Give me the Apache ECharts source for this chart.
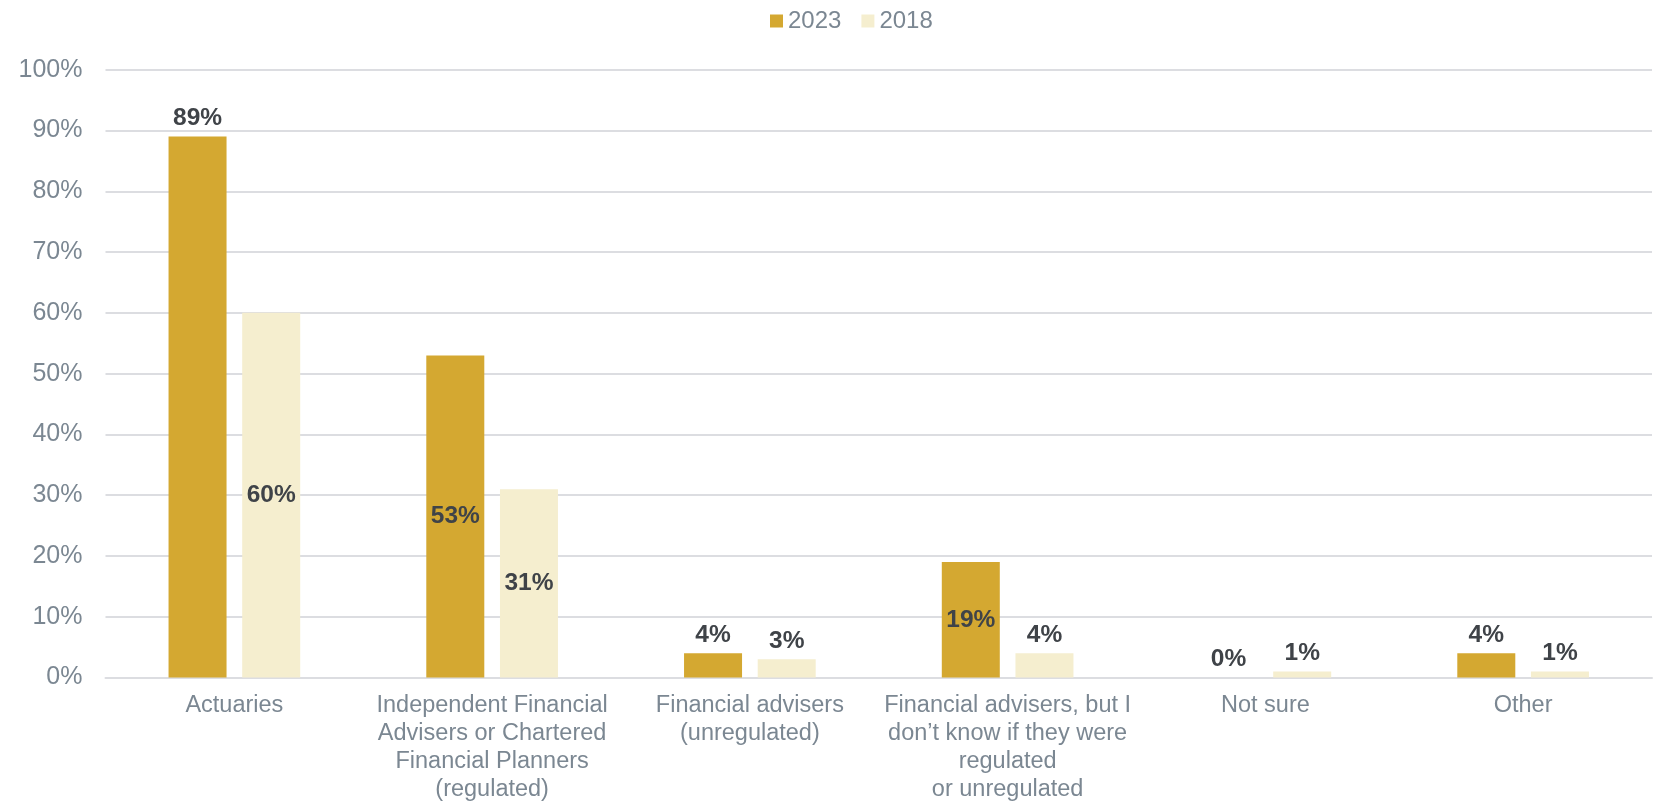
<!DOCTYPE html>
<html>
<head>
<meta charset="utf-8">
<script src="https://cdn.jsdelivr.net/npm/echarts@6/dist/echarts.min.js"></script>
<style>
  html, body { margin: 0; padding: 0; background: #ffffff; }
  #chart { width: 1655px; height: 807px; }
</style>
</head>
<body>
<div id="chart"></div>
<script>
// Who was consulted, share of respondents by survey year
const categories = [
  'Actuaries',
  'Independent Financial\nAdvisers or Chartered\nFinancial Planners\n(regulated)',
  'Financial advisers\n(unregulated)',
  'Financial advisers, but I\ndon\u2019t know if they were\nregulated\nor unregulated',
  'Not sure',
  'Other'
];
const values2023 = [89, 53, 4, 19, 0, 4];
const values2018 = [60, 31, 3, 4, 1, 1];
const yTicks = [0, 10, 20, 30, 40, 50, 60, 70, 80, 90, 100];

const FONT = '"Liberation Sans", Arial, sans-serif';
const AXIS_GREY = '#7b8792';
const LABEL_DARK = '#3f4348';

// Tall bars carry their value in the middle; short ones and the tallest above the bar
function labelled(values) {
  return values.map(v => ({
    value: v,
    label: { position: (v >= 15 && v < 80) ? 'inside' : 'top' }
  }));
}

const valueLabel = {
  show: true,
  formatter: '{c}%',
  color: LABEL_DARK,
  fontSize: 24.5,
  fontWeight: 'bold',
  distance: 6,
  fontFamily: FONT
};

const chart = echarts.init(document.getElementById('chart'), null, { renderer: 'canvas' });

chart.setOption({
  animation: false,
  backgroundColor: '#ffffff',
  textStyle: { fontFamily: FONT },
  legend: {
    top: 4,
    left: 765,
    icon: 'rect',
    itemWidth: 13,
    itemHeight: 13,
    itemGap: 20,
    textStyle: { color: AXIS_GREY, fontSize: 24, fontFamily: FONT },
    data: ['2023', '2018']
  },
  grid: { left: 105.5, right: 3, top: 69.7, bottom: 129.4, containLabel: false },
  xAxis: {
    type: 'category',
    data: categories,
    axisLine: { show: true, lineStyle: { color: '#dcdde1', width: 2 } },
    axisTick: { show: false },
    axisLabel: {
      interval: 0,
      color: AXIS_GREY,
      fontSize: 23.5,
      lineHeight: 28,
      margin: 14,
      fontFamily: FONT
    }
  },
  yAxis: {
    type: 'value',
    min: yTicks[0],
    max: yTicks[yTicks.length - 1],
    interval: yTicks[1] - yTicks[0],
    axisLine: { show: false },
    axisTick: { show: false },
    splitLine: { lineStyle: { color: '#dcdde1', width: 2 } },
    axisLabel: {
      formatter: '{value}%',
      color: AXIS_GREY,
      fontSize: 25,
      margin: 23,
      fontFamily: FONT
    }
  },
  series: [
    {
      name: '2023',
      type: 'bar',
      data: labelled(values2023),
      barWidth: 58,
      barGap: '27%',
      itemStyle: { color: '#d4a831' },
      label: valueLabel
    },
    {
      name: '2018',
      type: 'bar',
      data: labelled(values2018),
      barWidth: 58,
      barGap: '27%',
      itemStyle: { color: '#f5eecf' },
      label: valueLabel
    }
  ]
});
</script>
</body>
</html>
